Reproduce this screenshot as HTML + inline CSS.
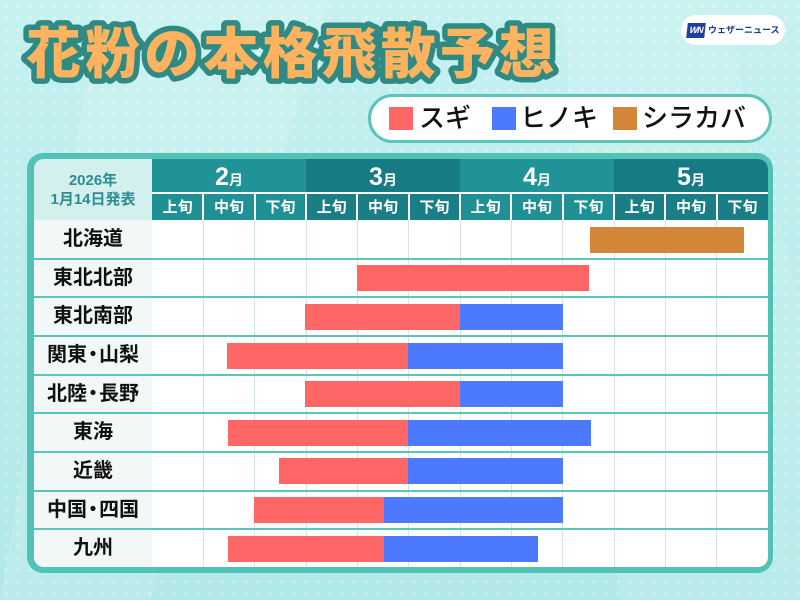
<!DOCTYPE html>
<html><head><meta charset="utf-8">
<style>
*{margin:0;padding:0;box-sizing:border-box}
body{width:800px;height:600px;overflow:hidden;position:relative;font-family:"Liberation Sans","Noto Sans CJK JP",sans-serif;
background:linear-gradient(180deg,#c6f1f0 0%,#bcedec 40%,#b1e9e8 100%);}
.dots{position:absolute;inset:0;background-image:radial-gradient(circle,rgba(255,255,255,0.35) 1.6px,transparent 2px);background-size:12px 12px;}
.abs{position:absolute}
.panel{left:27px;top:153px;width:746px;height:420px;background:#52c2b6;border-radius:16px}
.inner{left:34px;top:159px;width:734px;height:408px;background:#fff;border-radius:10px;overflow:hidden}
.mh{position:absolute;top:0;height:33px;width:154px;color:#fff;text-align:center;font-weight:bold}
.mh b{font-size:25px;line-height:36px}
.mh i{font-style:normal;font-size:14px}
.sh{position:absolute;top:35px;height:26px;width:51.33px;color:#fff;text-align:center;font-weight:bold;font-size:15px;line-height:27px}
.row{position:absolute;left:0;width:734px;height:38.65px}
.lab{position:absolute;left:0;top:0;width:118px;height:100%;background:#f2f8f8;text-align:center;font-weight:bold;font-size:20px;color:#111;line-height:38px}
.sep{position:absolute;left:0;width:734px;height:2px;background:#5cc4b8}
.vl{position:absolute;top:61px;width:1px;height:347px;background:#d2e7e5}
.bar{position:absolute;height:26px}
.R{background:#ff6666}.B{background:#4d79ff}.O{background:#d38538}
.dot{display:inline-block;margin:0 -4px}
.leg{left:368px;top:94px;width:404px;height:49px;background:#fff;border:3px solid #5cc4b8;border-radius:25px}
.sq{position:absolute;top:107px;width:24px;height:23px}
.lt{position:absolute;top:100px;font-size:26px;line-height:36px;color:#111;font-family:"Liberation Sans","Noto Sans CJK JP",sans-serif;font-weight:500}
</style></head><body>
<div class="dots"></div>
<svg class="abs" style="left:0;top:0" width="800" height="600">
<polygon points="100,0 330,0 150,600 0,600" fill="rgba(255,255,255,0.12)"/>
<polygon points="560,0 720,0 800,300 800,600 620,600" fill="rgba(255,255,255,0.10)"/>
<text x="26" y="73" textLength="528" lengthAdjust="spacing" font-family="Noto Sans CJK JP, sans-serif" font-weight="900" font-size="55" fill="#ffb35f" stroke="#2f8a84" stroke-width="11" stroke-linejoin="round" paint-order="stroke fill">花粉の本格飛散予想</text>
</svg>
<div class="abs" style="left:681px;top:15px;width:104px;height:30px;background:#fff;border-radius:15px"></div>
<div class="abs" style="left:687px;top:23px;width:18px;height:15px;background:#1f3f9a;transform:skewX(-6deg);color:#fff;font-size:9px;font-weight:bold;font-style:italic;line-height:15px;text-align:center;letter-spacing:-1px">WN</div>
<div class="abs" style="left:708px;top:23px;font-size:9px;font-weight:bold;color:#1c3a8c;line-height:14px;white-space:nowrap">ウェザーニュース</div>

<div class="abs leg"></div>
<div class="sq" style="left:389px;background:#ff6666"></div>
<div class="lt" style="left:419px">スギ</div>
<div class="sq" style="left:492px;background:#4d79ff"></div>
<div class="lt" style="left:520px">ヒノキ</div>
<div class="sq" style="left:613px;background:#d38538"></div>
<div class="lt" style="left:642px">シラカバ</div>

<div class="abs panel"></div>
<div class="abs inner">
  <div class="abs" style="left:0;top:0;width:118px;height:61px;background:#d3efee;color:#2e8c93;font-weight:bold;font-size:15px;line-height:19px;text-align:center;padding-top:12px">2026年<br>1月14日発表</div>
  <div class="mh" style="left:118px;background:#1f9397"><b>2</b><i>月</i></div>
  <div class="mh" style="left:272px;background:#177b83"><b>3</b><i>月</i></div>
  <div class="mh" style="left:426px;background:#1f9397"><b>4</b><i>月</i></div>
  <div class="mh" style="left:580px;background:#177b83"><b>5</b><i>月</i></div>
  <div class="abs" style="left:118px;top:33px;width:616px;height:28px;background:#fff"></div>
  <div class="sh" style="left:118px;background:#1f9195">上旬</div>
  <div class="sh" style="left:169.3px;background:#1f9195">中旬</div>
  <div class="sh" style="left:220.7px;background:#1f9195">下旬</div>
  <div class="sh" style="left:272px;background:#197e86">上旬</div>
  <div class="sh" style="left:323.3px;background:#197e86">中旬</div>
  <div class="sh" style="left:374.7px;background:#197e86">下旬</div>
  <div class="sh" style="left:426px;background:#1f9195">上旬</div>
  <div class="sh" style="left:477.3px;background:#1f9195">中旬</div>
  <div class="sh" style="left:528.7px;background:#1f9195">下旬</div>
  <div class="sh" style="left:580px;background:#197e86">上旬</div>
  <div class="sh" style="left:631.3px;background:#197e86">中旬</div>
  <div class="sh" style="left:682.7px;background:#197e86">下旬</div>
  <!-- white separators in subheader -->
  <div class="abs" style="left:168.3px;top:33px;width:2px;height:28px;background:#fff"></div>
  <div class="abs" style="left:219.7px;top:33px;width:2px;height:28px;background:#fff"></div>
  <div class="abs" style="left:271px;top:33px;width:2px;height:28px;background:#fff"></div>
  <div class="abs" style="left:322.3px;top:33px;width:2px;height:28px;background:#fff"></div>
  <div class="abs" style="left:373.7px;top:33px;width:2px;height:28px;background:#fff"></div>
  <div class="abs" style="left:425px;top:33px;width:2px;height:28px;background:#fff"></div>
  <div class="abs" style="left:476.3px;top:33px;width:2px;height:28px;background:#fff"></div>
  <div class="abs" style="left:527.7px;top:33px;width:2px;height:28px;background:#fff"></div>
  <div class="abs" style="left:579px;top:33px;width:2px;height:28px;background:#fff"></div>
  <div class="abs" style="left:630.3px;top:33px;width:2px;height:28px;background:#fff"></div>
  <div class="abs" style="left:681.7px;top:33px;width:2px;height:28px;background:#fff"></div>

  <!-- rows -->
  <div class="row" style="top:61px"><div class="lab">北海道</div></div>
  <div class="row" style="top:99.65px"><div class="lab">東北北部</div></div>
  <div class="row" style="top:138.3px"><div class="lab">東北南部</div></div>
  <div class="row" style="top:176.95px"><div class="lab">関東<span class="dot">・</span>山梨</div></div>
  <div class="row" style="top:215.6px"><div class="lab">北陸<span class="dot">・</span>長野</div></div>
  <div class="row" style="top:254.25px"><div class="lab">東海</div></div>
  <div class="row" style="top:292.9px"><div class="lab">近畿</div></div>
  <div class="row" style="top:331.55px"><div class="lab">中国<span class="dot">・</span>四国</div></div>
  <div class="row" style="top:370.2px"><div class="lab">九州</div></div>

  <!-- vertical grid lines -->
  <div class="vl" style="left:168.8px"></div>
  <div class="vl" style="left:220.2px"></div>
  <div class="vl" style="left:271.5px"></div>
  <div class="vl" style="left:322.8px"></div>
  <div class="vl" style="left:374.2px"></div>
  <div class="vl" style="left:425.5px"></div>
  <div class="vl" style="left:476.8px"></div>
  <div class="vl" style="left:528.2px"></div>
  <div class="vl" style="left:579.5px"></div>
  <div class="vl" style="left:630.8px"></div>
  <div class="vl" style="left:682.2px"></div>

  <!-- row separators -->
  <div class="sep" style="top:98.65px"></div>
  <div class="sep" style="top:137.3px"></div>
  <div class="sep" style="top:175.95px"></div>
  <div class="sep" style="top:214.6px"></div>
  <div class="sep" style="top:253.25px"></div>
  <div class="sep" style="top:291.9px"></div>
  <div class="sep" style="top:330.55px"></div>
  <div class="sep" style="top:369.2px"></div>

  <!-- bars (x relative to inner left 34, y relative to inner top 159) -->
  <div class="bar O" style="left:556px;width:154px;top:67.5px"></div>
  <div class="bar R" style="left:323px;width:232px;top:106.2px"></div>
  <div class="bar R" style="left:271px;width:155px;top:144.8px"></div>
  <div class="bar B" style="left:426px;width:103px;top:144.8px"></div>
  <div class="bar R" style="left:193px;width:181px;top:183.5px"></div>
  <div class="bar B" style="left:374px;width:155px;top:183.5px"></div>
  <div class="bar R" style="left:271px;width:155px;top:222.1px"></div>
  <div class="bar B" style="left:426px;width:103px;top:222.1px"></div>
  <div class="bar R" style="left:194px;width:180px;top:260.8px"></div>
  <div class="bar B" style="left:374px;width:183px;top:260.8px"></div>
  <div class="bar R" style="left:245px;width:129px;top:299.4px"></div>
  <div class="bar B" style="left:374px;width:155px;top:299.4px"></div>
  <div class="bar R" style="left:220px;width:130px;top:338px;"></div>
  <div class="bar B" style="left:350px;width:179px;top:338px"></div>
  <div class="bar R" style="left:194px;width:156px;top:376.7px"></div>
  <div class="bar B" style="left:350px;width:154px;top:376.7px"></div>
</div>
</body></html>
